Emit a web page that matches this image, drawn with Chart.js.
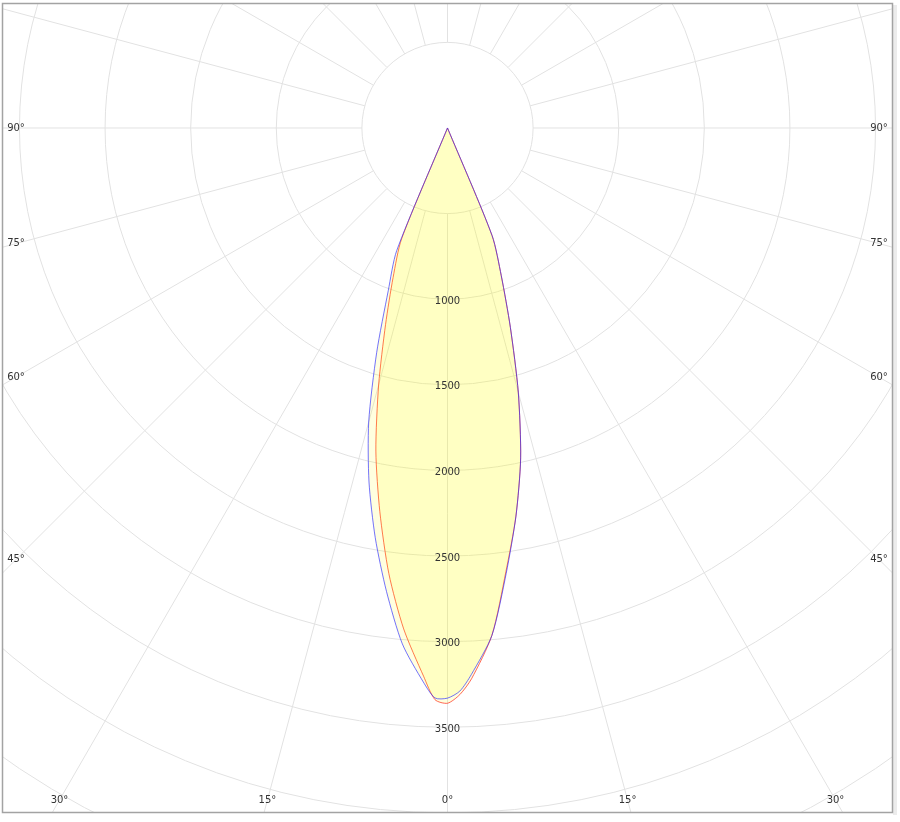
<!DOCTYPE html>
<html lang="en">
<head>
<meta charset="UTF-8">
<title>Polar intensity diagram</title>
<script src="https://cdn.jsdelivr.net/npm/chart.js"></script>
<style>
  body { margin: 0; background: #fff; }
  #wrap { width: 900px; height: 822px; }
</style>
</head>
<body>
<div id="wrap"><canvas id="polar" width="900" height="822"></canvas></div>
<script>
  // gamma angles (deg), left side negative
  const gammaAngles = [-90, -75, -60, -45, -30, -25, -22.5, -20, -17.5, -15, -12.5, -10, -7.5, -5, -2.5, -1.25,
    0, 1.25, 2.5, 5, 7.5, 10, 12.5, 15, 17.5, 20, 22.5, 25, 30, 45, 60, 75, 90];
  // intensities (cd)
  const planeRed = [0, 0, 0, 0, 0, 0, 700, 929, 1203, 1554, 1933, 2276, 2625, 2937, 3205, 3340,
    3360, 3310, 3220, 2975, 2614, 2302, 1974, 1597, 1221, 918, 680, 0, 0, 0, 0, 0, 0];
  const planeBlue = [0, 0, 0, 0, 0, 0, 775, 1012, 1376, 1778, 2118, 2430, 2730, 3025, 3239, 3330,
    3330, 3290, 3195, 2975, 2625, 2302, 1974, 1597, 1221, 918, 680, 0, 0, 0, 0, 0, 0];

  const ringValues = [500, 1000, 1500, 2000, 2500, 3000, 3500, 4000, 4500, 5000];
  const ringLabels = [1000, 1500, 2000, 2500, 3000, 3500];
  const spokeAngles = [0, 15, 30, 45, 60, 75, 90, 105, 120, 135, 150, 165, 180,
    195, 210, 225, 240, 255, 270, 285, 300, 315, 330, 345];
  const angleLabels = [-90, -75, -60, -45, -30, -15, 0, 15, 30, 45, 60, 75, 90];

  function toXY(angles, values) {
    return angles.map((g, i) => {
      const a = g * Math.PI / 180;
      return { x: values[i] * Math.sin(a), y: -values[i] * Math.cos(a) };
    });
  }

  const polarGrid = {
    id: 'polarGrid',
    beforeDatasetsDraw(chart) {
      const { ctx, chartArea: area, scales: { x, y } } = chart;
      const cx = x.getPixelForValue(0), cy = y.getPixelForValue(0);
      const px = v => x.getPixelForValue(v) - cx;
      ctx.save();
      ctx.beginPath();
      ctx.rect(area.left, area.top, area.right - area.left, area.bottom - area.top);
      ctx.clip();
      ctx.strokeStyle = '#e2e2e2';
      ctx.lineWidth = 1;
      ringValues.forEach(v => {
        ctx.beginPath();
        ctx.arc(cx, cy, px(v), 0, Math.PI * 2);
        ctx.stroke();
      });
      const r0 = px(ringValues[0]), r1 = px(9000);
      spokeAngles.forEach(g => {
        const a = g * Math.PI / 180, s = Math.sin(a), c = Math.cos(a);
        ctx.beginPath();
        ctx.moveTo(cx + r0 * s, cy + r0 * c);
        ctx.lineTo(cx + r1 * s, cy + r1 * c);
        ctx.stroke();
      });
      ctx.restore();
    },
    afterDatasetsDraw(chart) {
      const { ctx, chartArea: area, scales: { x, y } } = chart;
      const cx = x.getPixelForValue(0), cy = y.getPixelForValue(0);
      ctx.save();
      ctx.font = '10px Verdana, "DejaVu Sans", sans-serif';
      ctx.fillStyle = '#333';
      ctx.textAlign = 'center';
      ctx.textBaseline = 'middle';
      ringLabels.forEach(v => {
        ctx.fillText(String(v), cx, y.getPixelForValue(-v) + 2);
      });
      // angle labels sit where the spoke meets a box just inside the frame
      const half = (area.right - area.left) / 2 - 14;
      const down = area.bottom - 13 - cy;
      angleLabels.forEach(g => {
        const a = g * Math.PI / 180, s = Math.sin(a), c = Math.cos(a);
        const tx = Math.abs(s) > 1e-6 ? half / Math.abs(s) : Infinity;
        const ty = c > 1e-6 ? down / c : Infinity;
        const t = Math.min(tx, ty);
        ctx.fillText(Math.abs(g) + '\u00b0', cx + t * s, cy + t * c);
      });
      ctx.restore();
    },
    afterDraw(chart) {
      const { ctx, chartArea: area } = chart;
      ctx.save();
      ctx.fillStyle = '#ececec';
      ctx.fillRect(area.right, area.top + 2, 4, area.bottom - area.top);
      ctx.strokeStyle = '#a3a3a3';
      ctx.lineWidth = 1.5;
      ctx.strokeRect(area.left + 0.5, area.top + 0.5, area.right - area.left - 1, area.bottom - area.top - 1);
      ctx.restore();
    }
  };

  new Chart(document.getElementById('polar'), {
    type: 'scatter',
    data: {
      datasets: [
        {
          label: 'C90-C270',
          data: toXY(gammaAngles, planeBlue),
          showLine: true,
          borderColor: 'rgba(40,40,255,0.65)',
          borderWidth: 1,
          backgroundColor: 'rgba(255,255,0,0.125)',
          fill: 'shape',
          pointRadius: 0,
          tension: 0.25
        },
        {
          label: 'C0-C180',
          data: toXY(gammaAngles, planeRed),
          showLine: true,
          borderColor: 'rgba(255,40,20,0.7)',
          borderWidth: 1,
          backgroundColor: 'rgba(255,255,0,0.125)',
          fill: 'shape',
          pointRadius: 0,
          tension: 0.25
        }
      ]
    },
    options: {
      responsive: false,
      animation: false,
      layout: { padding: { left: 2, top: 3, right: 7, bottom: 9 } },
      scales: {
        x: { type: 'linear', display: false, min: -2602, max: 2602 },
        y: { type: 'linear', display: false, min: -4001, max: 730 }
      },
      plugins: {
        legend: { display: false },
        tooltip: { enabled: false }
      }
    },
    plugins: [polarGrid]
  });
</script>
</body>
</html>
